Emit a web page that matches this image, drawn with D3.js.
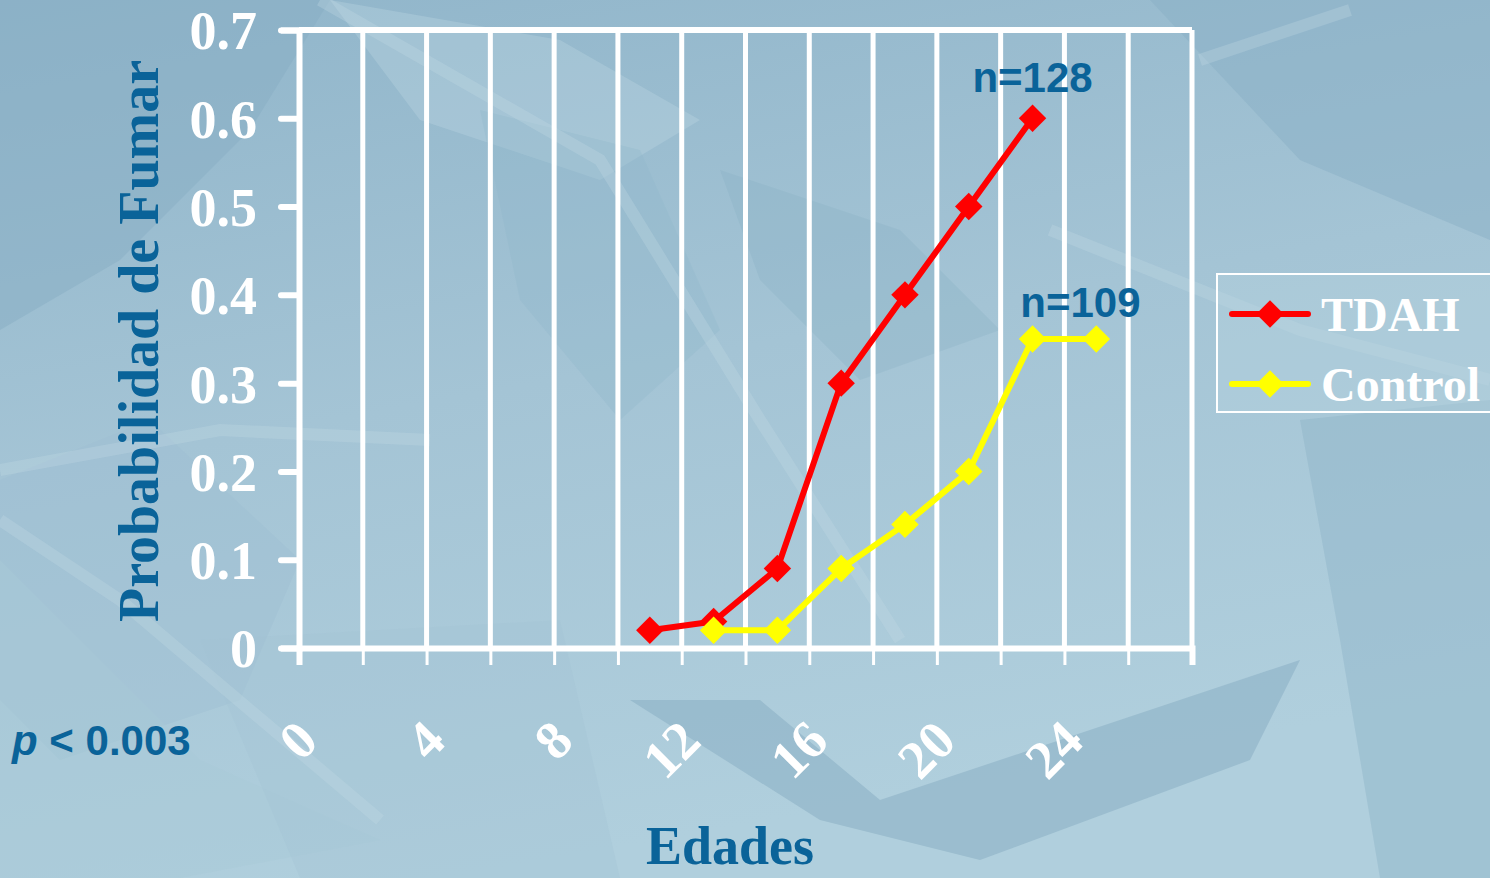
<!DOCTYPE html>
<html>
<head>
<meta charset="utf-8">
<script src="https://cdn.jsdelivr.net/npm/d3@7"></script>
<style>
  html, body { margin: 0; padding: 0; overflow: hidden; }
  svg { display: block; }
</style>
</head>
<body>
<svg id="chart"></svg>
<script>
const width = 1490;
const height = 878;

// data
const tdahAges = [11, 13, 15, 17, 19, 21, 23];
const tdahValues = [0.02, 0.03, 0.09, 0.30, 0.40, 0.50, 0.60];
const controlAges = [13, 15, 17, 19, 21, 23, 25];
const controlValues = [0.02, 0.02, 0.09, 0.14, 0.20, 0.35, 0.35];
const xTickLabels = [0, 4, 8, 12, 16, 20, 24];
const yTickLabels = [0, 0.1, 0.2, 0.3, 0.4, 0.5, 0.6, 0.7];
const seriesNames = ["TDAH", "Control"];
const seriesColors = ["#ff0000", "#ffff00"];
const annotations = [
  { text: "n=128", age: 23, value: 0.6, dy: -26 },
  { text: "n=109", age: 24.5, value: 0.35, dy: -22 }
];

const serif = "'Liberation Serif', 'Times New Roman', serif";
const sans = "'Liberation Sans', Arial, sans-serif";
const blue = "#0a6399";

const svg = d3.select("#chart").attr("width", width).attr("height", height);

// background ----------------------------------------------------------
const defs = svg.append("defs");
const grad = defs.append("linearGradient").attr("id", "bg")
  .attr("x1", "0").attr("y1", "0").attr("x2", "0.3").attr("y2", "1");
grad.append("stop").attr("offset", "0").attr("stop-color", "#90b5ca");
grad.append("stop").attr("offset", "0.5").attr("stop-color", "#a4c4d5");
grad.append("stop").attr("offset", "1").attr("stop-color", "#b0cfdd");
svg.append("rect").attr("width", width).attr("height", height).attr("fill", "url(#bg)");

// rough shapes of the textured backdrop
const shapes = [
  { pts: [[0,0],[330,0],[250,130],[120,260],[0,330]], fill: "#88aec4", op: 0.5 },
  { pts: [[330,0],[560,40],[700,120],[600,180],[420,120]], fill: "#bcd6e2", op: 0.35 },
  { pts: [[480,110],[640,150],[720,330],[620,420],[520,300]], fill: "#8fb5c9", op: 0.3 },
  { pts: [[1150,0],[1490,0],[1490,240],[1300,160]], fill: "#8ab0c6", op: 0.5 },
  { pts: [[720,170],[900,230],[1000,330],[860,380],[760,280]], fill: "#89aec4", op: 0.3 },
  { pts: [[0,480],[150,420],[300,560],[240,700],[60,760],[0,700]], fill: "#9dbfd1", op: 0.4 },
  { pts: [[630,700],[760,700],[880,800],[1060,740],[1300,660],[1250,760],[980,860],[820,820]], fill: "#85abc2", op: 0.5 },
  { pts: [[1300,420],[1490,400],[1490,878],[1380,878],[1340,640]], fill: "#8fb3c8", op: 0.45 },
  { pts: [[0,560],[200,760],[380,840],[180,878],[0,878]], fill: "#a9c9d8", op: 0.45 },
  { pts: [[200,640],[560,620],[620,878],[300,878]], fill: "#a2c3d4", op: 0.35 }
];
svg.append("g").selectAll("path").data(shapes).join("path")
  .attr("d", d => "M" + d.pts.map(p => p.join(",")).join("L") + "Z")
  .attr("fill", d => d.fill)
  .attr("opacity", d => d.op);

// light streaks
const streaks = [
  [[320,0],[600,160],[760,420],[900,640]],
  [[0,470],[220,430],[430,440]],
  [[1050,230],[1300,330],[1490,380]],
  [[0,520],[120,600],[380,820]],
  [[1200,60],[1350,10]]
];
svg.append("g").selectAll("path").data(streaks).join("path")
  .attr("d", d3.line())
  .attr("fill", "none")
  .attr("stroke", "#c3d9e5")
  .attr("stroke-width", 12)
  .attr("opacity", 0.3);

// scales ----------------------------------------------------------------
const x = d3.scaleLinear().domain([0, 28]).range([299, 1192]);
const y = d3.scaleLinear().domain([0, 0.7]).range([648, 30]);

const plot = svg.append("g");

// vertical gridlines every 2 years
const gridVals = d3.range(2, 29, 2);
plot.append("g").selectAll("line").data(gridVals).join("line")
  .attr("x1", d => x(d)).attr("x2", d => x(d))
  .attr("y1", y(0.7)).attr("y2", y(0))
  .attr("stroke", "#fff").attr("stroke-width", 5);

// top border
plot.append("line")
  .attr("x1", x(0)).attr("x2", x(28))
  .attr("y1", y(0.7)).attr("y2", y(0.7))
  .attr("stroke", "#fff").attr("stroke-width", 6);

// y axis
const yAxis = d3.axisLeft(y).tickValues(yTickLabels)
  .tickSize(18).tickPadding(24)
  .tickFormat(d => d === 0 ? "0" : d3.format(".1f")(d));
const gy = svg.append("g").attr("transform", `translate(${x(0)},0)`).call(yAxis);
gy.select(".domain").attr("stroke", "#fff").attr("stroke-width", 6);
gy.selectAll(".tick line").attr("stroke", "#fff").attr("stroke-width", 6).attr("stroke-linecap", "round");
gy.selectAll(".tick text")
  .attr("fill", "#fff")
  .attr("font-family", serif)
  .attr("font-weight", "bold")
  .attr("font-size", 54)
  .attr("dy", "0.35em");

// x axis
const xAxis = d3.axisBottom(x).tickValues(d3.range(0, 29, 2))
  .tickSize(17).tickFormat("");
const gx = svg.append("g").attr("transform", `translate(0,${y(0)})`).call(xAxis);
gx.select(".domain").attr("stroke", "#fff").attr("stroke-width", 6);
gx.selectAll(".tick line").attr("stroke", "#fff").attr("stroke-width", 3);

// rotated x tick labels, end-anchored below each tick
svg.append("g").selectAll("text").data(xTickLabels).join("text")
  .attr("transform", d => `translate(${x(d) + 8},${730}) rotate(-45)`)
  .attr("text-anchor", "end")
  .attr("dy", "0.35em")
  .attr("fill", "#fff")
  .attr("font-family", serif)
  .attr("font-weight", "bold")
  .attr("font-size", 54)
  .text(d => d);

// series ----------------------------------------------------------------
const series = [
  { name: seriesNames[0], color: seriesColors[0], pts: tdahAges.map((a, i) => [a, tdahValues[i]]) },
  { name: seriesNames[1], color: seriesColors[1], pts: controlAges.map((a, i) => [a, controlValues[i]]) }
];
const line = d3.line().x(d => x(d[0])).y(d => y(d[1]));
const diamond = d3.symbol().type(d3.symbolDiamond2).size(480);

series.forEach(s => {
  const g = plot.append("g");
  g.append("path").datum(s.pts)
    .attr("d", line)
    .attr("fill", "none")
    .attr("stroke", s.color)
    .attr("stroke-width", 6)
    .attr("stroke-linejoin", "round");
  g.selectAll("path.m").data(s.pts).join("path")
    .attr("class", "m")
    .attr("transform", d => `translate(${x(d[0])},${y(d[1])})`)
    .attr("d", diamond)
    .attr("fill", s.color);
});

// annotations
svg.append("g").selectAll("text").data(annotations).join("text")
  .attr("x", d => x(d.age))
  .attr("y", d => y(d.value) + d.dy)
  .attr("text-anchor", "middle")
  .attr("fill", blue)
  .attr("font-family", sans)
  .attr("font-weight", "bold")
  .attr("font-size", 42)
  .text(d => d.text);

// legend ----------------------------------------------------------------
const legend = svg.append("g").attr("transform", "translate(1217,274)");
legend.append("rect")
  .attr("width", 274).attr("height", 138)
  .attr("fill", "#b6d3e0").attr("fill-opacity", 0.35)
  .attr("stroke", "#fff").attr("stroke-width", 2);
series.forEach((s, i) => {
  const ly = 40 + i * 70;
  legend.append("line")
    .attr("x1", 15).attr("x2", 91).attr("y1", ly).attr("y2", ly)
    .attr("stroke", s.color).attr("stroke-width", 6).attr("stroke-linecap", "round");
  legend.append("path")
    .attr("transform", `translate(53,${ly})`)
    .attr("d", diamond)
    .attr("fill", s.color);
  legend.append("text")
    .attr("x", 104).attr("y", ly)
    .attr("dy", "0.35em")
    .attr("fill", "#fff")
    .attr("font-family", serif)
    .attr("font-weight", "bold")
    .attr("font-size", 48)
    .text(s.name);
});

// titles ----------------------------------------------------------------
svg.append("text")
  .attr("transform", `translate(158,341) rotate(-90)`)
  .attr("text-anchor", "middle")
  .attr("fill", blue)
  .attr("font-family", serif)
  .attr("font-weight", "bold")
  .attr("font-size", 56)
  .text("Probabilidad de Fumar");

svg.append("text")
  .attr("x", 730).attr("y", 864)
  .attr("text-anchor", "middle")
  .attr("fill", blue)
  .attr("font-family", serif)
  .attr("font-weight", "bold")
  .attr("font-size", 54)
  .text("Edades");

const pText = svg.append("text")
  .attr("x", 12).attr("y", 755)
  .attr("fill", blue)
  .attr("font-family", sans)
  .attr("font-weight", "bold")
  .attr("font-size", 42);
pText.append("tspan").attr("font-style", "italic").text("p");
pText.append("tspan").text(" < 0.003");
</script>
</body>
</html>
